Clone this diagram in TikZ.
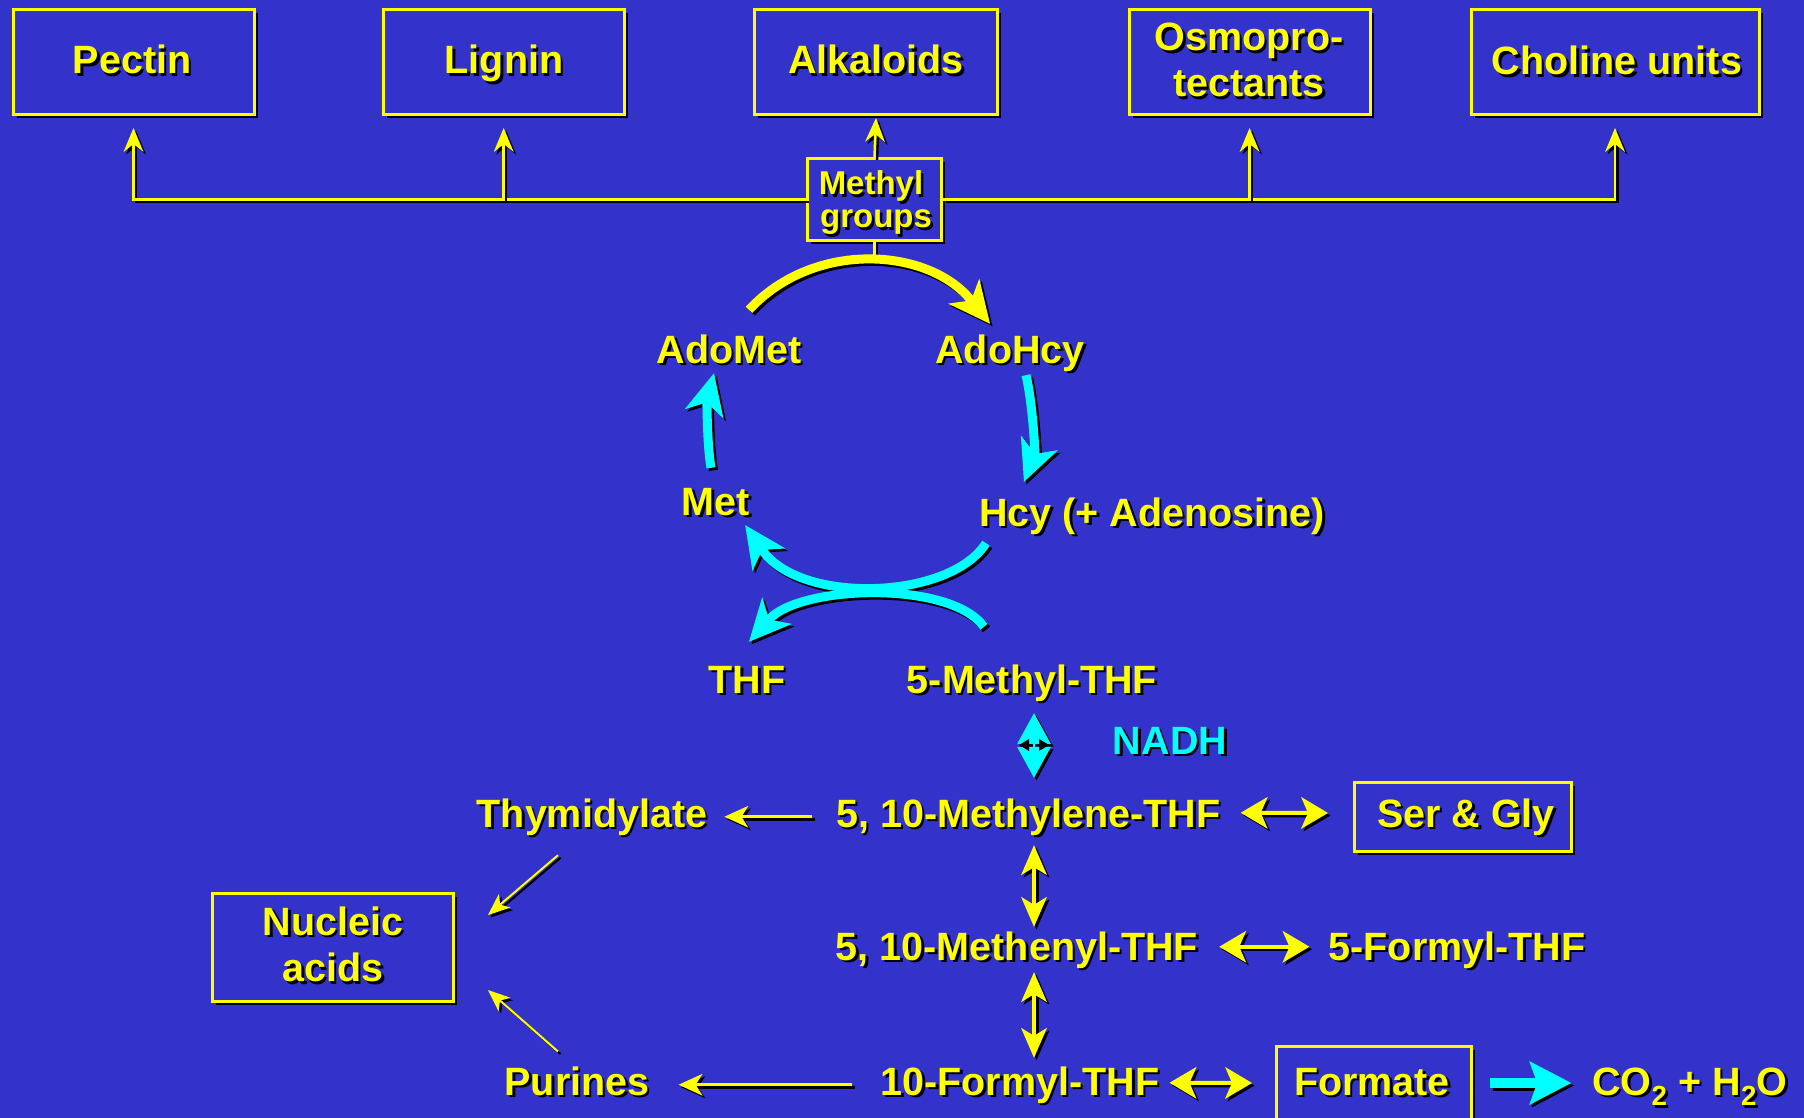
\documentclass[tikz,border=0pt]{standalone}
\usepackage{fontspec}
\setmainfont{Liberation Sans}
\usetikzlibrary{arrows.meta,shadows}
\definecolor{bgblue}{RGB}{51,51,204}
\definecolor{yel}{RGB}{255,255,0}
\definecolor{cya}{RGB}{0,255,255}
\newcommand\shtext[1]{\leavevmode\rlap{\kern2.5pt\raisebox{-2.5pt}[0pt][0pt]{\color{black}#1}}#1}
\newcommand\shdraw[2]{\draw[#1,black,transform canvas={shift={(2.5pt,-2.5pt)}}] #2; \draw[#1] #2;}
\begin{document}
\begin{tikzpicture}[x=1pt,y=-1pt,
  box/.style={draw=yel, line width=3pt, fill=bgblue, inner sep=0pt,
    drop shadow={shadow xshift=3.5pt, shadow yshift=-3.5pt, opacity=1, fill=black}},
  lbl/.style={text=yel, font=\bfseries\fontsize{39.5pt}{44pt}\selectfont, inner sep=0pt,
    anchor=base, text height=29pt, text depth=8.5pt},
  smalllbl/.style={lbl, font=\bfseries\fontsize{33pt}{36pt}\selectfont, text height=23pt, text depth=3pt},
  treeline/.style={yel, line width=2.5pt},
  treearrow/.style={treeline, -{Stealth[length=24pt,width=20pt,inset=8pt,line width=0pt]}},
  yarc/.style={yel, line width=9pt, -{Stealth[length=42pt,width=40pt,inset=12pt,line width=0pt]}},
  cyanarc/.style={cya, line width=9pt, -{Stealth[length=42pt,width=40pt,inset=12pt,line width=0pt]}},
  nadharr/.style={cya, line width=2pt, {Stealth[length=31pt,width=34pt,inset=0pt,line width=0pt]}-{Stealth[length=31pt,width=34pt,inset=0pt,line width=0pt]}},
  vdouble/.style={yel, line width=4pt, {Stealth[length=30pt,width=26pt,inset=8pt,line width=0pt]}-{Stealth[length=30pt,width=26pt,inset=8pt,line width=0pt]}},
  hdouble/.style={yel, line width=4pt, {Stealth[length=27pt,width=32pt,inset=7pt,line width=0pt]}-{Stealth[length=27pt,width=32pt,inset=7pt,line width=0pt]}},
  thinarr/.style={yel, line width=3pt, -{Stealth[length=24pt,width=22pt,inset=7pt,line width=0pt]}},
  diagarr/.style={yel, line width=2pt, -{Stealth[length=22pt,width=18pt,inset=6pt,line width=0pt]}},
  bigcyan/.style={cya, line width=10pt, -{Stealth[length=42pt,width=44pt,inset=8pt,line width=0pt]}}
]
\fill[bgblue] (0,0) rectangle (1804,1118);
\useasboundingbox (0,0) rectangle (1804,1118);

% boxes
\node[box, minimum width=241pt, minimum height=105pt] (pectinbox) at (133.5,62) {};
\node[box, minimum width=241pt, minimum height=105pt] (ligninbox) at (503.7,62) {};
\node[box, minimum width=243pt, minimum height=105pt] (alkbox) at (876,62) {};
\node[box, minimum width=241pt, minimum height=105pt] (osmobox) at (1249.6,62) {};
\node[box, minimum width=288pt, minimum height=105pt] (cholinebox) at (1615,62) {};
\node[box, minimum width=134pt, minimum height=81pt] (methylbox) at (874.5,199.5) {};
\node[box, minimum width=217pt, minimum height=69pt] (serglybox) at (1463,817) {};
\node[box, minimum width=241pt, minimum height=108pt] (nucleicbox) at (333,947) {};
\node[box, minimum width=195pt, minimum height=79pt] (formatebox) at (1374,1085.5) {};

% texts
\node[lbl] (pectin) at (132,74) {\shtext{Pectin}};
\node[lbl] (lignin) at (504,74) {\shtext{Lignin}};
\node[lbl] (alkaloids) at (876,74) {\shtext{Alkaloids}};
\node[lbl] (osmo1) at (1249,51) {\shtext{Osmopro-}};
\node[lbl] (osmo2) at (1249,96.7) {\shtext{tectants}};
\node[lbl] (choline) at (1617,75) {\shtext{Choline units}};
\node[smalllbl] (methyl1) at (871,195) {\shtext{Methyl}};
\node[smalllbl] (methyl2) at (876,228) {\shtext{groups}};
\node[lbl] (adomet) at (729,363) {\shtext{AdoMet}};
\node[lbl] (adohcy) at (1010,363) {\shtext{AdoHcy}};
\node[lbl] (met) at (716,515) {\shtext{Met}};
\node[lbl] (hcy) at (1152,526) {\shtext{Hcy (+ Adenosine)}};
\node[lbl] (thf) at (747,693) {\shtext{THF}};
\node[lbl] (methylthf) at (1032,693) {\shtext{5-Methyl-THF}};
\node[lbl, text=cya] (nadh) at (1170,754) {\shtext{NADH}};
\node[lbl] (thymidylate) at (592,827) {\shtext{Thymidylate}};
\node[lbl] (methylene) at (1028.5,827) {\shtext{5, 10-Methylene-THF}};
\node[lbl] (sergly) at (1466,827) {\shtext{Ser \& Gly}};
\node[lbl] (nucleic1) at (333,935) {\shtext{Nucleic}};
\node[lbl] (nucleic2) at (333,981.7) {\shtext{acids}};
\node[lbl] (methenyl) at (1017,960) {\shtext{5, 10-Methenyl-THF}};
\node[lbl] (formyl5) at (1457,960) {\shtext{5-Formyl-THF}};
\node[lbl] (formyl10) at (1020,1095) {\shtext{10-Formyl-THF}};
\node[lbl] (purines) at (577,1095) {\shtext{Purines}};
\node[lbl] (formate) at (1372,1095) {\shtext{Formate}};
\node[lbl] (co2) at (1690,1095) {\shtext{CO\textsubscript{2} + H\textsubscript{2}O}};

% top tree
\shdraw{treearrow}{(methylbox.west) -| ([yshift=-12pt]pectinbox.south)}
\shdraw{treearrow}{(methylbox.east) -| ([yshift=-12pt]cholinebox.south)}
\shdraw{treearrow}{(ligninbox.south |- methylbox.west) -- ([yshift=-12pt]ligninbox.south)}
\shdraw{treearrow}{(osmobox.south |- methylbox.east) -- ([yshift=-12pt]osmobox.south)}
\shdraw{treearrow}{(methylbox.north) -- ([yshift=-2pt]alkbox.south)}
\coordinate (arctop) at (874.5,258);
\shdraw{treeline}{(methylbox.south) -- (arctop)}

% methyl cycle
\shdraw{yarc}{([xshift=20pt,yshift=24pt]adomet.north) .. controls (815,239) and (929,248) .. ([xshift=-20pt,yshift=10pt]adohcy.north)}
\shdraw{cyanarc}{([xshift=16pt,yshift=-3.5pt]adohcy.south) .. controls (1033,405) and (1035,454) .. ([xshift=45pt,yshift=15pt]hcy.north west)}
\shdraw{cyanarc}{([xshift=-5pt,yshift=18pt]met.north) .. controls (707,445) and (707,402) .. ([xshift=-15pt,yshift=-1.5pt]adomet.south)}
\shdraw{cyanarc}{([xshift=7pt,yshift=-8.5pt]hcy.south west) .. controls (950,600) and (800,605) .. ([xshift=-5pt,yshift=-1.5pt]met.south east)}
\shdraw{cyanarc}{([xshift=-48pt,yshift=37pt]methylthf.north) .. controls (950,580) and (800,585) .. ([xshift=2pt,yshift=22pt]thf.north)}

% folate chain
\shdraw{nadharr}{([xshift=2pt,yshift=-11.5pt]methylthf.south) -- ([xshift=5.5pt,yshift=20pt]methylene.north)}
\coordinate (nadhmid) at (1034,745);
\fill[black] ([xshift=-15pt]nadhmid) -- ([xshift=-5pt,yshift=6pt]nadhmid) -- ([xshift=-5pt,yshift=-6pt]nadhmid) -- cycle;
\fill[black] ([xshift=15pt]nadhmid) -- ([xshift=5pt,yshift=6pt]nadhmid) -- ([xshift=5pt,yshift=-6pt]nadhmid) -- cycle;
\shdraw{vdouble}{([xshift=5.5pt,yshift=-9.5pt]methylene.south) -- ([xshift=17pt,yshift=4pt]methenyl.north)}
\shdraw{vdouble}{([xshift=17pt,yshift=-3.5pt]methenyl.south) -- ([xshift=14pt,yshift=8pt]formyl10.north)}
\shdraw{hdouble}{([xshift=20pt,yshift=4pt]methylene.east) -- ([xshift=-25pt,yshift=4pt]serglybox.west)}
\shdraw{hdouble}{([xshift=21pt,yshift=3pt]methenyl.east) -- ([xshift=-19pt,yshift=3pt]formyl5.west)}
\shdraw{hdouble}{([xshift=10pt,yshift=2pt]formyl10.east) -- ([xshift=-23pt,yshift=2.5pt]formatebox.west)}
\shdraw{bigcyan}{([xshift=17pt,yshift=2.5pt]formatebox.east) -- ([xshift=-21pt,yshift=1.75pt]co2.west)}
\shdraw{thinarr}{([xshift=-24pt]methylene.west) -- ([xshift=17pt]thymidylate.east)}
\shdraw{thinarr}{([xshift=-28pt]formyl10.west) -- ([xshift=29pt]purines.east)}
\shdraw{diagarr}{([xshift=-34pt,yshift=-19.5pt]thymidylate.south) -- ([xshift=33pt,yshift=32pt]nucleicbox.east)}
\shdraw{diagarr}{([xshift=-19pt,yshift=14.3pt]purines.north) -- ([xshift=33pt,yshift=-43pt]nucleicbox.east)}
\end{tikzpicture}
\end{document}
